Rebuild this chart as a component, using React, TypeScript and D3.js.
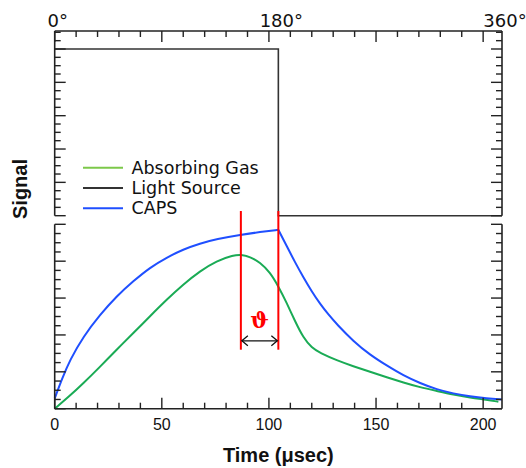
import React from "react";
import * as d3 from "d3";

// ---------- data ----------
const PERIOD = 208.8; // µs, one full 360° cycle
const degreeLabels = [0, 180, 360];

const lightTime = [0, 104.4, 104.4, 208.8];
const lightSignal = [5, 5, 0, 0];

const gasTime = [0, 6.5, 13.4, 21.2, 28.9, 36.7, 44.5, 52.3, 60, 67.8, 75.6, 83.4, 86.9, 91.2, 95.8, 100.5, 104.4, 108.3, 112.2, 116.1, 120, 123.9, 131.7, 139.4, 147.2, 155, 162.8, 170.6, 178.4, 186.1, 193.9, 201.7, 207.1];
const gasSignal = [0, 0.32, 0.69, 1.14, 1.6, 2.05, 2.51, 2.96, 3.37, 3.73, 4.01, 4.16, 4.18, 4.12, 3.97, 3.7, 3.32, 2.87, 2.37, 1.92, 1.65, 1.51, 1.31, 1.15, 1.0, 0.85, 0.71, 0.58, 0.48, 0.38, 0.3, 0.24, 0.19];

const capsRiseTime = [0, 3.5, 7.1, 13.4, 21.2, 28.9, 36.7, 44.5, 52.3, 60, 67.8, 75.6, 86.9, 95.9, 104.4];
const capsRiseSignal = [0.28, 0.82, 1.32, 1.96, 2.55, 3.05, 3.46, 3.83, 4.1, 4.32, 4.48, 4.6, 4.72, 4.79, 4.85];
const capsDecayTime = [104.4, 108.3, 112.2, 116.1, 120, 123.9, 127.8, 131.7, 139.4, 147.2, 155, 162.8, 170.6, 178.4, 186.1, 193.9, 201.7, 208.8];
const capsDecaySignal = [4.85, 4.41, 3.97, 3.56, 3.18, 2.84, 2.55, 2.29, 1.83, 1.46, 1.17, 0.9, 0.69, 0.52, 0.41, 0.33, 0.28, 0.25];

const phaseMarkers = [86.9, 104.4]; // gas peak, CAPS peak

const legendLabels = ["Absorbing Gas", "Light Source", "CAPS"];
const legendColors = ["#7cc84a", "#333333", "#1f4fff"];

// ---------- layout ----------
const W = 526;
const H = 468;
const X0 = 54.7;
const X1 = 502;
const TOP_AXIS_Y = 31;
const TOP_PANEL_BOTTOM = 215.7;
const LOW_PANEL_TOP = 224.3;
const BOTTOM_Y = 408.7;

const GREEN = "#1aab55";
const BLUE = "#1f4fff";
const AXIS = "#222";

const x = d3.scaleLinear().domain([0, PERIOD]).range([X0, X1]);
const yLow = d3.scaleLinear().domain([0, 5]).range([BOTTOM_Y, LOW_PANEL_TOP]);
const yTop = d3.scaleLinear().domain([0, 5]).range([TOP_PANEL_BOTTOM, 49]);

const lineLow = d3
  .line<[number, number]>()
  .x((d) => x(d[0]))
  .y((d) => yLow(d[1]))
  .curve(d3.curveBasis);

const zip = (a: number[], b: number[]) => a.map((v, i) => [v, b[i]] as [number, number]);

export default function App() {
  const xTicks = d3.range(0, 201, 10);
  const lowTicks = d3.range(0, 5.001, 0.25);
  const topMax = yTop.invert(TOP_AXIS_Y);
  const topTicks = d3.range(0, topMax + 0.01, 0.25);
  const isMajor = (v: number) => Math.abs(v - Math.round(v)) < 1e-6;

  const lightPath = d3
    .line<[number, number]>()
    .x((d) => x(d[0]))
    .y((d) => yTop(d[1]))(zip(lightTime, lightSignal));

  const arrowY = yLow(1.84);
  const ax0 = x(phaseMarkers[0]);
  const ax1 = x(phaseMarkers[1]);

  return (
    <svg
      width={W}
      height={H}
      style={{ position: "absolute", left: 0, top: 0, background: "#fff" }}
    >
      {/* curves */}
      <path d={lightPath || ""} fill="none" stroke="#333" strokeWidth={1.6} />
      <path d={lineLow(zip(gasTime, gasSignal)) || ""} fill="none" stroke={GREEN} strokeWidth={2} />
      <path d={lineLow(zip(capsRiseTime, capsRiseSignal)) || ""} fill="none" stroke={BLUE} strokeWidth={2} />
      <path d={lineLow(zip(capsDecayTime, capsDecaySignal)) || ""} fill="none" stroke={BLUE} strokeWidth={2} />

      {/* phase markers */}
      {phaseMarkers.map((t, i) => (
        <line key={i} x1={x(t)} x2={x(t)} y1={yLow(5.36)} y2={yLow(1.6)} stroke="#ff0000" strokeWidth={2} />
      ))}
      <line x1={ax0 + 1} x2={ax1 - 1} y1={arrowY} y2={arrowY} stroke="#111" strokeWidth={1.3} />
      <path
        d={`M${ax0 + 7},${arrowY - 5} L${ax0 + 1},${arrowY} L${ax0 + 7},${arrowY + 5}`}
        fill="none"
        stroke="#111"
        strokeWidth={1.3}
      />
      <path
        d={`M${ax1 - 7},${arrowY - 5} L${ax1 - 1},${arrowY} L${ax1 - 7},${arrowY + 5}`}
        fill="none"
        stroke="#111"
        strokeWidth={1.3}
      />
      <text
        x={(ax0 + ax1) / 2}
        y={yLow(2.2)}
        textAnchor="middle"
        fill="#ff0000"
        fontFamily="'DejaVu Serif', serif"
        fontWeight="bold"
        fontSize={22}
      >
        ϑ
      </text>

      {/* axes frame */}
      <g stroke={AXIS} strokeWidth={1.6} fill="none">
        <line x1={X0} x2={X1} y1={TOP_AXIS_Y} y2={TOP_AXIS_Y} />
        <line x1={X0} x2={X1} y1={BOTTOM_Y} y2={BOTTOM_Y} />
        <line x1={X0} x2={X0} y1={TOP_AXIS_Y} y2={TOP_PANEL_BOTTOM} />
        <line x1={X1} x2={X1} y1={TOP_AXIS_Y} y2={TOP_PANEL_BOTTOM} />
        <line x1={X0} x2={X0} y1={LOW_PANEL_TOP} y2={BOTTOM_Y} />
        <line x1={X1} x2={X1} y1={LOW_PANEL_TOP} y2={BOTTOM_Y} />
      </g>
      {/* ticks */}
      <g stroke={AXIS} strokeWidth={1.4}>
        {xTicks.map((t) => {
          const len = t % 50 === 0 ? 11 : 6;
          return (
            <g key={t}>
              <line x1={x(t)} x2={x(t)} y1={BOTTOM_Y} y2={BOTTOM_Y - len} />
              <line x1={x(t)} x2={x(t)} y1={TOP_AXIS_Y} y2={TOP_AXIS_Y + len} />
            </g>
          );
        })}
        {lowTicks.map((v) => {
          const len = isMajor(v) ? 11 : 6;
          return (
            <g key={"l" + v}>
              <line x1={X0} x2={X0 + len} y1={yLow(v)} y2={yLow(v)} />
              <line x1={X1} x2={X1 - len} y1={yLow(v)} y2={yLow(v)} />
            </g>
          );
        })}
        {topTicks.map((v) => {
          const len = isMajor(v) ? 11 : 6;
          return (
            <g key={"t" + v}>
              <line x1={X0} x2={X0 + len} y1={yTop(v)} y2={yTop(v)} />
              <line x1={X1} x2={X1 - len} y1={yTop(v)} y2={yTop(v)} />
            </g>
          );
        })}
      </g>

      {/* tick labels */}
      {xTicks
        .filter((t) => t % 50 === 0)
        .map((t) => (
          <text
            key={"xl" + t}
            x={x(t)}
            y={430}
            textAnchor="middle"
            fontFamily="'Liberation Sans', Arial, sans-serif"
            fontSize={16}
            fill="#111"
          >
            {t}
          </text>
        ))}
      {degreeLabels.map((d) => (
        <text
          key={"dl" + d}
          x={x((d / 360) * PERIOD) + 3}
          y={27}
          textAnchor="middle"
          fontFamily="'DejaVu Sans', sans-serif"
          fontSize={18}
          fill="#111"
        >
          {d + "°"}
        </text>
      ))}

      {/* axis titles */}
      <text
        x={(X0 + X1) / 2}
        y={461.5}
        textAnchor="middle"
        fontFamily="'Liberation Sans', Arial, sans-serif"
        fontWeight="bold"
        fontSize={20}
        fill="#111"
      >
        Time (μsec)
      </text>
      <text
        transform={`translate(26.5, 189) rotate(-90)`}
        textAnchor="middle"
        fontFamily="'Liberation Sans', Arial, sans-serif"
        fontWeight="bold"
        fontSize={20}
        fill="#111"
      >
        Signal
      </text>

      {/* legend */}
      {legendLabels.map((lab, i) => {
        const ly = 167.7 + i * 20.3;
        return (
          <g key={lab}>
            <line x1={83} x2={123} y1={ly} y2={ly} stroke={legendColors[i]} strokeWidth={2} />
            <text
              x={131.5}
              y={ly + 6}
              fontFamily="'DejaVu Sans', sans-serif"
              fontSize={17.5}
              fill="#111"
            >
              {lab}
            </text>
          </g>
        );
      })}
    </svg>
  );
}
